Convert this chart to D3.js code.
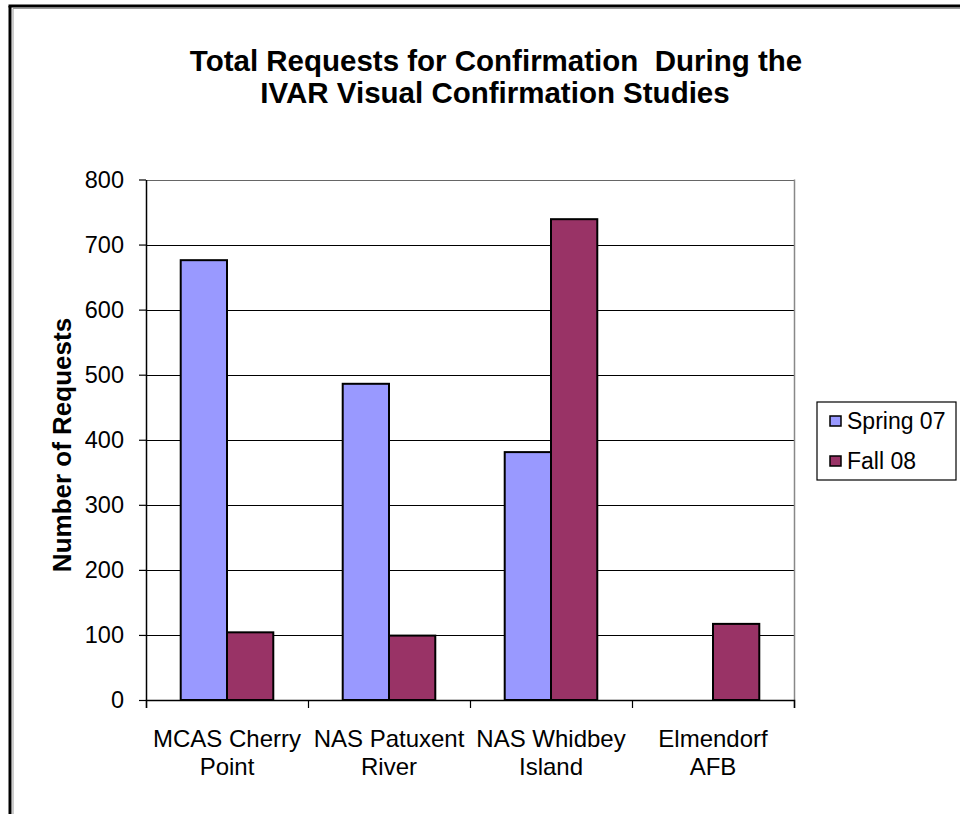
<!DOCTYPE html>
<html>
<head>
<meta charset="utf-8">
<script src="https://cdn.jsdelivr.net/npm/d3@7"></script>
<style>
  html, body { margin: 0; padding: 0; background: #fff; }
  svg { display: block; font-family: "Liberation Sans", Arial, sans-serif; }
</style>
</head>
<body>
<div id="chart"></div>
<script>
// data
const sites = [["MCAS Cherry", "Point"], ["NAS Patuxent", "River"], ["NAS Whidbey", "Island"], ["Elmendorf", "AFB"]];
const seriesNames = ["Spring 07", "Fall 08"];
const spring07 = [676, 486, 381, 0];
const fall08 = [104, 99, 739, 117];
const yTicks = [0, 100, 200, 300, 400, 500, 600, 700, 800];
const colors = ["#9999ff", "#993366"];

const W = 960, H = 814;
const plot = { left: 146, right: 794, top: 179.5, bottom: 700 };
const FONT = "'Liberation Sans', Arial, sans-serif";

const svg = d3.select("#chart").append("svg")
  .attr("width", W)
  .attr("height", H);

// outer frame (only top and left edges show)
svg.append("line").attr("x1", 8.5).attr("x2", W).attr("y1", 6).attr("y2", 6)
  .attr("stroke", "#000").attr("stroke-width", 3);
svg.append("line").attr("x1", 10).attr("x2", 10).attr("y1", 6).attr("y2", H)
  .attr("stroke", "#000").attr("stroke-width", 3);
svg.append("line").attr("x1", 13).attr("x2", W).attr("y1", 8.5).attr("y2", 8.5)
  .attr("stroke", "#999").attr("stroke-width", 1);
svg.append("line").attr("x1", 13).attr("x2", 13).attr("y1", 8.5).attr("y2", H)
  .attr("stroke", "#999").attr("stroke-width", 1);

// title
const title = svg.append("text")
  .attr("text-anchor", "middle")
  .attr("font-size", 29.5)
  .attr("font-weight", "bold")
  .style("white-space", "pre");
title.append("tspan").attr("x", 496).attr("y", 71).text("Total Requests for Confirmation  During the");
title.append("tspan").attr("x", 495).attr("y", 103).text("IVAR Visual Confirmation Studies");

const x0 = d3.scaleBand()
  .domain(d3.range(sites.length))
  .range([plot.left, plot.right])
  .paddingInner(0)
  .paddingOuter(0);

const barW = x0.bandwidth() / 3.5;
const x1 = d3.scaleBand()
  .domain(seriesNames)
  .range([x0.bandwidth() / 2 - barW, x0.bandwidth() / 2 + barW]);

const y = d3.scaleLinear().domain([0, 800]).range([plot.bottom, plot.top]);

// gridlines
svg.append("g")
  .selectAll("line")
  .data(yTicks.filter(d => d > 0))
  .join("line")
  .attr("x1", plot.left).attr("x2", plot.right)
  .attr("y1", d => Math.round(y(d)) + 0.5).attr("y2", d => Math.round(y(d)) + 0.5)
  .attr("stroke", d => d === 800 ? "#666" : "#000")
  .attr("stroke-width", 1.2);

// plot area right border
svg.append("line")
  .attr("x1", plot.right + 0.5).attr("x2", plot.right + 0.5)
  .attr("y1", plot.top).attr("y2", plot.bottom)
  .attr("stroke", "#888").attr("stroke-width", 1.5);

// bars
const rows = sites.map((s, i) => ({ i, vals: [spring07[i], fall08[i]] }));
svg.append("g")
  .selectAll("g")
  .data(rows)
  .join("g")
  .attr("transform", d => `translate(${x0(d.i)},0)`)
  .selectAll("rect")
  .data(d => d.vals.map((v, k) => ({ k, v })).filter(e => e.v > 0))
  .join("rect")
  .attr("x", d => x1(seriesNames[d.k]))
  .attr("y", d => y(d.v))
  .attr("width", x1.bandwidth())
  .attr("height", d => y(0) - y(d.v))
  .attr("fill", d => colors[d.k])
  .attr("stroke", "#000")
  .attr("stroke-width", 2);

// y axis
const yAxis = svg.append("g")
  .attr("transform", `translate(${plot.left},0)`)
  .call(d3.axisLeft(y).tickValues(yTicks).tickSize(7).tickPadding(15).tickSizeOuter(0));
yAxis.select(".domain").attr("stroke", "#000").attr("stroke-width", 1.5);
yAxis.selectAll(".tick line").attr("stroke", "#000").attr("stroke-width", 1.2);
yAxis.selectAll(".tick text").attr("font-size", 23.5).attr("fill", "#000")
  .attr("font-family", FONT);

// x axis
const xAxis = svg.append("g")
  .attr("transform", `translate(0,${plot.bottom})`)
  .call(d3.axisBottom(d3.scaleLinear().domain([0, sites.length]).range([plot.left, plot.right]))
    .tickValues(d3.range(sites.length + 1)).tickSize(8).tickFormat(""));
xAxis.select(".domain").attr("stroke", "#000").attr("stroke-width", 1.5);
xAxis.selectAll(".tick line").attr("stroke", "#000").attr("stroke-width", 1.2);

svg.append("g")
  .selectAll("text")
  .data(sites)
  .join("text")
  .attr("text-anchor", "middle")
  .attr("font-size", 24)
  .attr("fill", "#000")
  .attr("x", (d, i) => x0(i) + x0.bandwidth() / 2)
  .attr("y", 747)
  .each(function (d) {
    const t = d3.select(this);
    d.forEach((line, j) => {
      t.append("tspan").attr("x", t.attr("x")).attr("dy", j === 0 ? 0 : 28).text(line);
    });
  });

// y axis title
svg.append("text")
  .attr("transform", `translate(71,445) rotate(-90)`)
  .attr("text-anchor", "middle")
  .attr("font-size", 26)
  .attr("font-weight", "bold")
  .text("Number of Requests");

// legend
const legend = svg.append("g").attr("transform", "translate(817,402)");
legend.append("rect")
  .attr("width", 139).attr("height", 78)
  .attr("fill", "#fff").attr("stroke", "#000").attr("stroke-width", 1.2);
seriesNames.forEach((name, k) => {
  const row = legend.append("g").attr("transform", `translate(13,${19 + k * 40})`);
  row.append("rect")
    .attr("x", 0).attr("y", -5).attr("width", 11).attr("height", 10)
    .attr("fill", colors[k]).attr("stroke", "#000").attr("stroke-width", 1.5);
  row.append("text")
    .attr("x", 17).attr("y", 7.5)
    .attr("font-size", 23)
    .text(name);
});
</script>
</body>
</html>
